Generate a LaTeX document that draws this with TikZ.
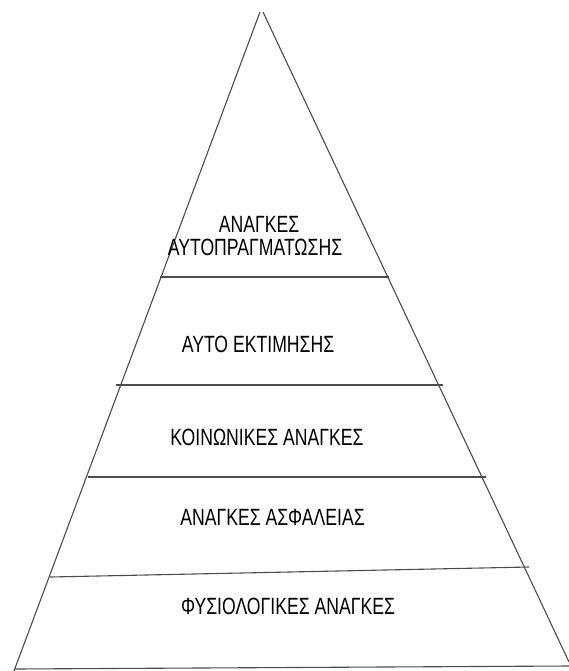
\documentclass[tikz,border=0pt]{standalone}
\usepackage{fontspec}
\newfontfamily\pyrfont[FakeStretch=0.75]{Liberation Sans}
\begin{document}
\begin{tikzpicture}[x=1pt,y=-1pt,
  edge/.style={draw=black!70,line width=1.1pt},
  lvl/.style={anchor=base,inner sep=0pt,font=\pyrfont\fontsize{23.5}{26}\selectfont,text=black}]
\useasboundingbox[fill=white] (0,0) rectangle (569,671);
% apex and base corners
\coordinate (apexL) at (260,12);
\coordinate (apexR) at (263,12);
\coordinate (baseL) at (14,671);
\coordinate (baseR) at (569,662);
% sides
\draw[edge] (apexL) -- (baseL);
\draw[edge] (apexR) -- (baseR);
% level lines
\coordinate (l1a) at (160,277); \coordinate (l1b) at (389,277);
\coordinate (l2a) at (116,385); \coordinate (l2b) at (443,385);
\coordinate (l3a) at (88,477);  \coordinate (l3b) at (486,477);
\coordinate (l4a) at (50,577);  \coordinate (l4b) at (529,567);
\coordinate (l5a) at (15,669);  \coordinate (l5b) at (569,666);
\draw[edge] (l1a) -- (l1b);
\draw[edge] (l2a) -- (l2b);
\draw[edge] (l3a) -- (l3b);
\draw[edge] (l4a) -- (l4b);
\draw[edge] (l5a) -- (l5b);
% labels
\node[lvl] (t1a) at (259,232) {ΑΝΑΓΚΕΣ};
\node[lvl] (t1b) at (255,255) {ΑΥΤΟΠΡΑΓΜΑΤΩΣΗΣ};
\node[lvl] (t2) at (258,352) {ΑΥΤΟ ΕΚΤΙΜΗΣΗΣ};
\node[lvl] (t3) at (267,445) {ΚΟΙΝΩΝΙΚΕΣ ΑΝΑΓΚΕΣ};
\node[lvl] (t4) at (272.5,525) {ΑΝΑΓΚΕΣ ΑΣΦΑΛΕΙΑΣ};
\node[lvl] (t5) at (288,614) {ΦΥΣΙΟΛΟΓΙΚΕΣ ΑΝΑΓΚΕΣ};
\end{tikzpicture}
\end{document}
